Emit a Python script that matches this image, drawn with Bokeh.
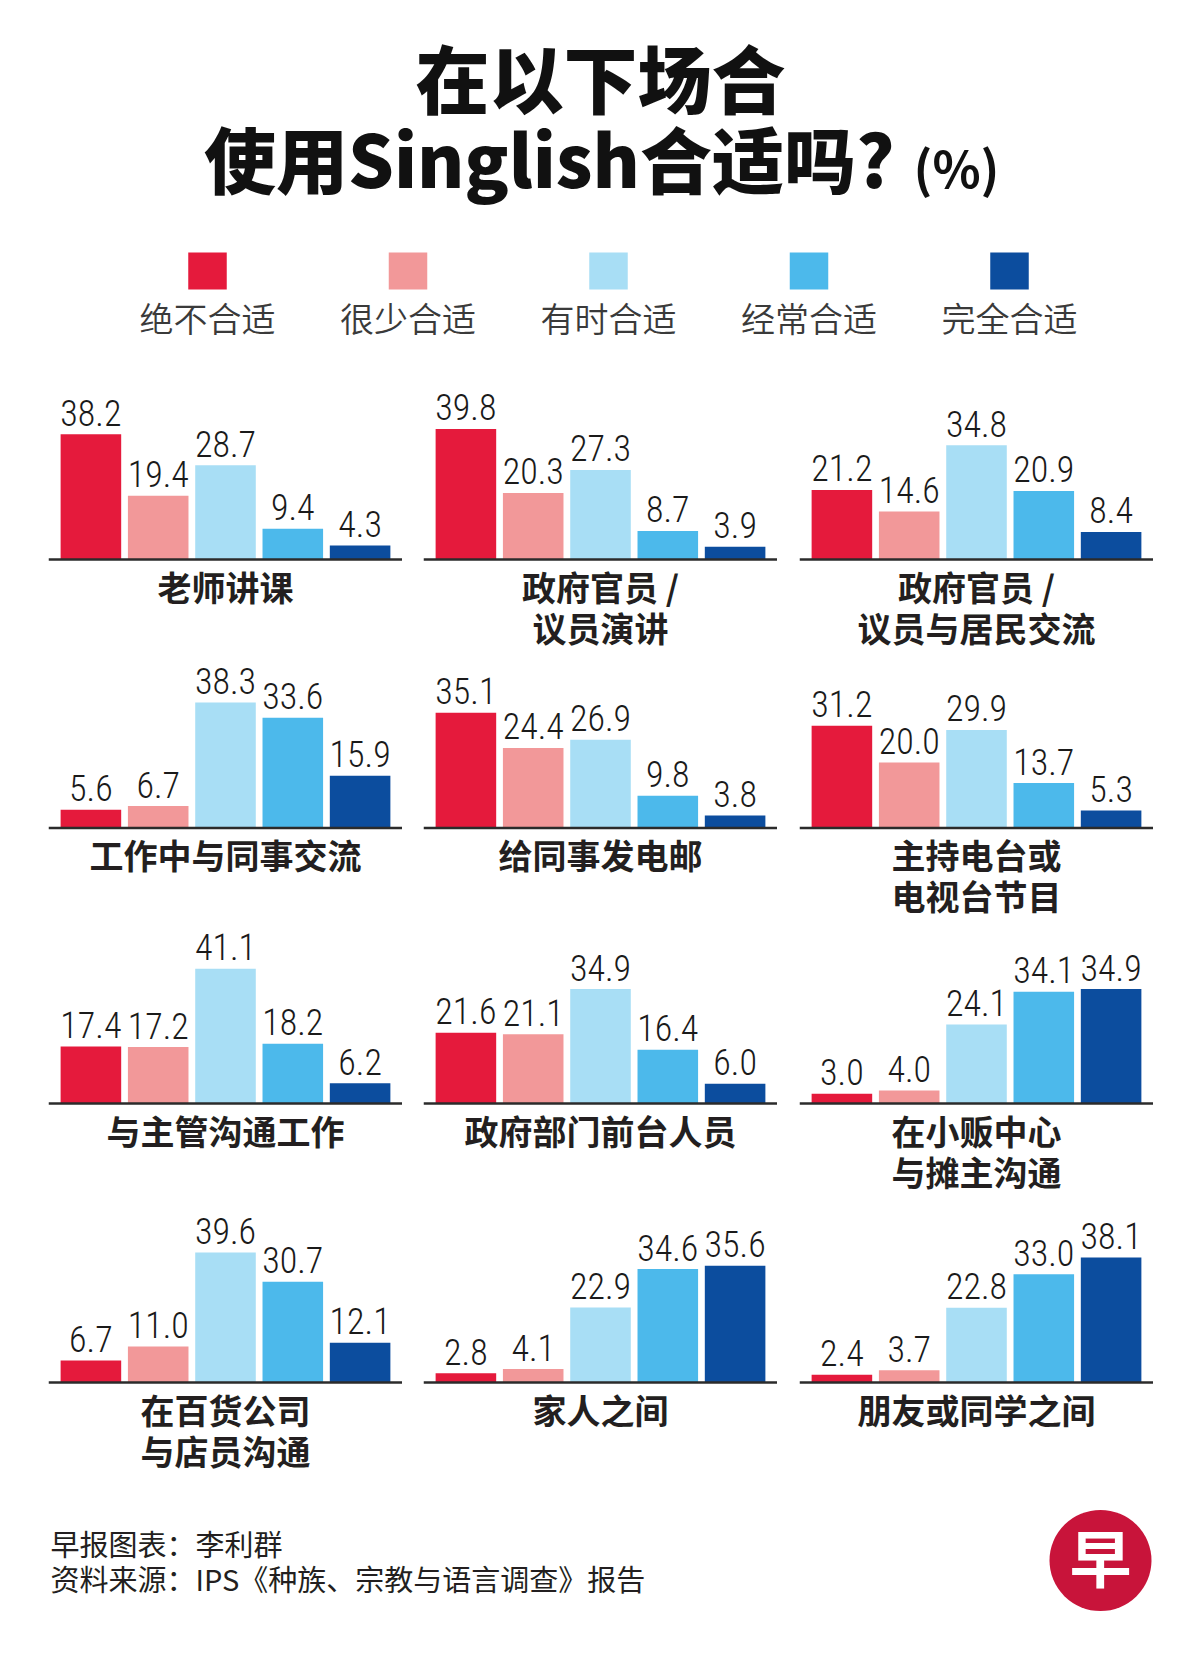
from bokeh.plotting import figure
from bokeh.models import Range1d, FactorRange, Span, Spacer, ColumnDataSource
from bokeh.layouts import column, row
from bokeh.core.properties import value
from bokeh.embed import file_html
from bokeh.resources import INLINE

# ---------------- data ----------------
categories = ["绝不合适", "很少合适", "有时合适", "经常合适", "完全合适"]
colors = ["#e51a3c", "#f29899", "#a8def5", "#4cb9eb", "#0c4d9e"]

title_line1 = "在以下场合"
title_line2 = "使用Singlish合适吗?"
title_unit = "(%)"

panel_labels = [
    ["老师讲课"],
    ["政府官员 /", "议员演讲"],
    ["政府官员 /", "议员与居民交流"],
    ["工作中与同事交流"],
    ["给同事发电邮"],
    ["主持电台或", "电视台节目"],
    ["与主管沟通工作"],
    ["政府部门前台人员"],
    ["在小贩中心", "与摊主沟通"],
    ["在百货公司", "与店员沟通"],
    ["家人之间"],
    ["朋友或同学之间"],
]

teacher_lecture = [38.2, 19.4, 28.7, 9.4, 4.3]
official_speech = [39.8, 20.3, 27.3, 8.7, 3.9]
official_residents = [21.2, 14.6, 34.8, 20.9, 8.4]
colleagues_work = [5.6, 6.7, 38.3, 33.6, 15.9]
email_colleagues = [35.1, 24.4, 26.9, 9.8, 3.8]
radio_tv_host = [31.2, 20.0, 29.9, 13.7, 5.3]
supervisor_work = [17.4, 17.2, 41.1, 18.2, 6.2]
gov_front_desk = [21.6, 21.1, 34.9, 16.4, 6.0]
hawker_centre = [3.0, 4.0, 24.1, 34.1, 34.9]
department_store = [6.7, 11.0, 39.6, 30.7, 12.1]
family = [2.8, 4.1, 22.9, 34.6, 35.6]
friends_classmates = [2.4, 3.7, 22.8, 33.0, 38.1]

panel_values = [
    teacher_lecture, official_speech, official_residents,
    colleagues_work, email_colleagues, radio_tv_host,
    supervisor_work, gov_front_desk, hawker_centre,
    department_store, family, friends_classmates,
]

footer_lines = ["早报图表：李利群", "资料来源：IPS《种族、宗教与语言调查》报告"]

# ---------------- styling / layout ----------------
CJK = "Noto Sans CJK SC"
TITLE_FONT = "Noto Sans CJK SC Black, Noto Sans CJK SC"
LEGEND_FONT = "Noto Sans CJK SC DemiLight, Noto Sans CJK SC"
NUM_FONT = "Roboto Condensed Light, Roboto Condensed, Noto Sans Condensed, DejaVu Sans Condensed"
TXT = "#231f20"
PPU = 3.28  # pixels per percentage point
# (top, baseline, bottom) of each row band in page pixels
row_bands = [(370, 559, 656), (656, 827.5, 925), (925, 1103, 1199), (1199, 1382, 1486)]
PANEL_W = 354
col_gaps = [48, 21, 22]


def clean(p):
    p.axis.visible = False
    p.grid.visible = False
    p.outline_line_color = None
    p.background_fill_color = "white"
    p.border_fill_color = "white"
    return p


def make_panel(vals, lines, top, base, bottom):
    p = figure(width=PANEL_W, height=int(bottom - top),
               x_range=FactorRange(factors=categories, range_padding=0.13,
                                   range_padding_units="absolute"),
               y_range=Range1d(-(bottom - base) / PPU, (base - top) / PPU),
               output_backend="svg", toolbar_location=None, min_border=0)
    clean(p)
    src = ColumnDataSource(dict(
        cat=categories, val=vals, color=colors,
        lab=[f"{v:.1f}" for v in vals],
        ly=[v + 21.5 / PPU for v in vals],
    ))
    p.vbar(x="cat", top="val", bottom=0, width=0.9, fill_color="color",
           line_color=None, source=src)
    p.text(x="cat", y="ly", text="lab", source=src, text_align="center",
           text_baseline="middle", text_font=value(NUM_FONT),
           text_font_size="36px", text_color="#1a1a1a")
    p.add_layout(Span(location=0, dimension="width", line_color="#2b2b2b",
                      line_width=2.5))
    for k, line in enumerate(lines):
        p.text(x=[2.5], y=[-(26.5 + 41 * k) / PPU], text=[line],
               text_align="center", text_baseline="middle",
               text_font=value(CJK), text_font_style="bold",
               text_font_size="34px", text_color=TXT)
    return p


# header: title + legend
header = figure(width=1184, height=370, x_range=Range1d(0, 1184),
                y_range=Range1d(370, 0), output_backend="svg",
                toolbar_location=None, min_border=0)
clean(header)
header.text(x=[600], y=[75], text=[title_line1], text_align="center",
            text_baseline="middle", text_font=value(TITLE_FONT), text_font_style="bold",
            text_font_size="74px", text_color="#111111")
header.text(x=[894], y=[156], text=[title_line2], text_align="right",
            text_baseline="middle", text_font=value(TITLE_FONT), text_font_style="bold",
            text_font_size="72px", text_color="#111111")
header.text(x=[913], y=[165], text=[title_unit], text_align="left",
            text_baseline="middle", text_font=value(CJK), text_font_style="bold",
            text_font_size="50px", text_color="#111111")
leg_x = [207 + 200.5 * i for i in range(len(categories))]
header.rect(x=leg_x, y=[270.5] * len(categories), width=38.5, height=37,
            fill_color=colors, line_color=None)
header.text(x=leg_x, y=[317] * len(categories), text=categories,
            text_align="center", text_baseline="middle", text_font=value(LEGEND_FONT),
            text_font_size="34px", text_color="#3a3a3a")

rows = []
for r, (top, base, bottom) in enumerate(row_bands):
    items = []
    for c in range(3):
        i = r * 3 + c
        items.append(Spacer(width=col_gaps[c], height=int(bottom - top)))
        items.append(make_panel(panel_values[i], panel_labels[i], top, base, bottom))
    rows.append(row(*items))

footer = figure(width=1184, height=168, x_range=Range1d(0, 1184),
                y_range=Range1d(1654, 1486), output_backend="svg",
                toolbar_location=None, min_border=0)
clean(footer)
footer.text(x=[50, 50], y=[1542, 1577], text=footer_lines, text_align="left",
            text_baseline="middle", text_font=value(CJK), text_font_size="29px",
            text_color=TXT)
footer.ellipse(x=[1100], y=[1560], width=102, height=101, fill_color="#c8143a",
               line_color=None)
footer.text(x=[1100], y=[1555], text=["早"], text_align="center",
            text_baseline="middle", text_font=value(CJK), text_font_style="bold",
            text_font_size="62px", text_color="white")

layout = column(header, *rows, footer)
open("out.html", "w", encoding="utf-8").write(file_html(layout, INLINE))
